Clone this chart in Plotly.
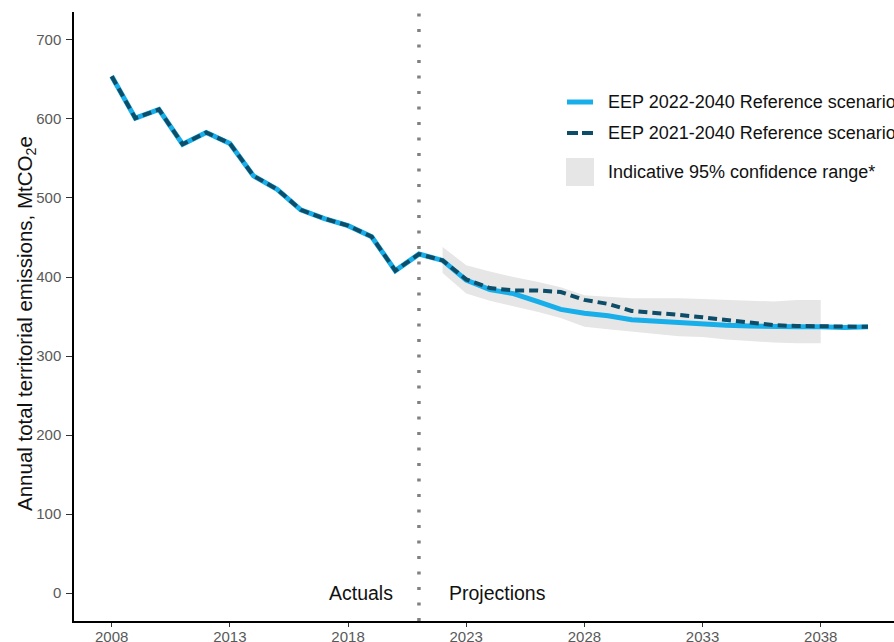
import plotly.graph_objects as go

years = list(range(2008, 2041))
eep_2022 = [654, 601, 612, 568, 583, 569, 528, 511, 485, 474, 465, 451, 408, 429, 421,
            396, 384, 379, 369, 359, 354, 351, 346, 344, 342, 340.5, 339, 338, 337, 337, 337, 336, 337]
eep_2021 = [654, 601, 612, 568, 583, 569, 528, 511, 485, 474, 465, 451, 408, 429, 421,
            397, 386, 383, 383, 381, 371, 366, 357, 355, 352, 349, 346, 342, 339, 338, 338, 337, 337]
band_years = list(range(2022, 2039))
band_upper = [438, 415, 407, 400, 394, 387, 377, 375, 373, 373, 373, 372, 371, 370, 369, 371, 371]
band_lower = [405, 379, 370, 363, 356, 348, 337, 334, 331, 328, 325, 324, 321, 319, 317, 316, 316]
x_ticks = [2008, 2013, 2018, 2023, 2028, 2033, 2038]
y_ticks = [0, 100, 200, 300, 400, 500, 600, 700]
divider_year = 2021
legend_labels = ["EEP 2022-2040 Reference scenario",
                 "EEP 2021-2040 Reference scenario",
                 "Indicative 95% confidence range*"]

BLUE = "#17AEEA"
DARK = "#0E4D68"
GREY_BAND = "#E6E6E6"
FONT = "Liberation Sans, Arial, sans-serif"
TICK_GREY = "#595959"

W, H = 894, 642
ML, MR, MT, MB = 74, 0, 12, 21
PW, PH = W - ML - MR, H - MT - MB


def px(xp):
    return (xp - ML) / PW


def py(yp):
    return (H - MB - yp) / PH


fig = go.Figure()
fig.add_trace(go.Scatter(x=band_years, y=band_lower, mode="lines", line=dict(width=0),
                         hoverinfo="skip", showlegend=False))
fig.add_trace(go.Scatter(x=band_years, y=band_upper, mode="lines", line=dict(width=0),
                         fill="tonexty", fillcolor=GREY_BAND, name=legend_labels[2],
                         showlegend=False))
fig.add_trace(go.Scatter(x=years, y=eep_2022, mode="lines", name=legend_labels[0],
                         line=dict(color=BLUE, width=5), showlegend=False))
fig.add_trace(go.Scatter(x=years, y=eep_2021, mode="lines", name=legend_labels[1],
                         line=dict(color=DARK, width=4, dash="9px,5px"), showlegend=False))

# vertical divider
fig.add_shape(type="line", x0=divider_year, x1=divider_year, xref="x", yref="paper",
              y0=0, y1=1, line=dict(color="#808080", width=3.5, dash="3px,12.5px"))

ann = []
ann.append(dict(x=divider_year - 1, y=0, xref="x", yref="y", text="Actuals",
                xanchor="right", yanchor="middle", showarrow=False,
                font=dict(family=FONT, size=19.5, color="#111111")))
ann.append(dict(x=divider_year + 1.2, y=0, xref="x", yref="y", text="Projections",
                xanchor="left", yanchor="middle", showarrow=False,
                font=dict(family=FONT, size=19.5, color="#111111")))
ann.append(dict(x=px(26), y=py(324), xref="paper", yref="paper",
                text="Annual total territorial emissions, MtCO<sub>2</sub>e",
                textangle=-90, xanchor="center", yanchor="middle", showarrow=False,
                font=dict(family=FONT, size=20.5, color="#111111")))

# manual legend
rows = [102, 133, 172]
fig.add_shape(type="line", xref="paper", yref="paper", x0=px(567), x1=px(593),
              y0=py(rows[0]), y1=py(rows[0]), line=dict(color=BLUE, width=5))
fig.add_shape(type="line", xref="paper", yref="paper", x0=px(567), x1=px(594),
              y0=py(rows[1]), y1=py(rows[1]), line=dict(color=DARK, width=4, dash="11px,4px"))
fig.add_shape(type="rect", xref="paper", yref="paper", x0=px(566), x1=px(594),
              y0=py(186), y1=py(158), line=dict(width=0), fillcolor=GREY_BAND)
for r, lab in zip(rows, legend_labels):
    ann.append(dict(x=px(606), y=py(r), xref="paper", yref="paper", text=lab,
                    xanchor="left", yanchor="middle", showarrow=False,
                    font=dict(family=FONT, size=18, color="#111111")))

fig.update_layout(
    width=W, height=H,
    margin=dict(l=ML, r=MR, t=MT, b=MB, pad=0, autoexpand=False),
    plot_bgcolor="white", paper_bgcolor="white",
    annotations=ann,
    font=dict(family=FONT),
    xaxis=dict(range=[2006.405, 2041.1], tickvals=x_ticks, ticks="outside", ticklen=4,
               tickwidth=1, tickcolor="#333333", showline=True, linecolor="black",
               linewidth=1.5, showgrid=False, zeroline=False, ticklabelstandoff=-3,
               tickfont=dict(family=FONT, size=15, color=TICK_GREY)),
    yaxis=dict(range=[-35.4, 735.4], tickvals=y_ticks, ticks="outside", ticklen=6,
               tickwidth=1, tickcolor="#333333", showline=True, linecolor="black",
               linewidth=1.5, showgrid=False, zeroline=False, ticklabelstandoff=2,
               tickfont=dict(family=FONT, size=15, color=TICK_GREY)),
)

fig.write_html("out.html", config={"displayModeBar": False},
               post_script="document.body.style.margin='0';document.body.style.overflow='hidden';")
